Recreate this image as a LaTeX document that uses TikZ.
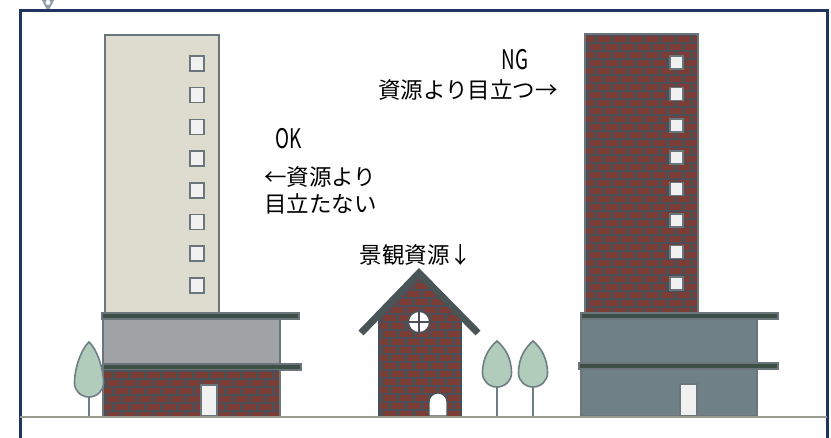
\documentclass[tikz,border=0pt]{standalone}
\usepackage{fontspec}
\usepackage{graphicx}
\newfontfamily\jpfont{Noto Sans CJK JP}
\definecolor{framenavy}{HTML}{1E3561}
\definecolor{beige}{HTML}{DDDCCF}
\definecolor{edgegray}{HTML}{6B757C}
\definecolor{winwhite}{HTML}{F1F1F1}
\definecolor{slabgreen}{HTML}{3E5045}
\definecolor{blockgray}{HTML}{A0A4A6}
\definecolor{slate}{HTML}{6F8087}
\definecolor{brick}{HTML}{7C3D37}
\definecolor{mortar}{HTML}{4B4F57}
\definecolor{leaf}{HTML}{B2CCBB}
\definecolor{leafedge}{HTML}{6F7E84}
\definecolor{groundgray}{HTML}{999B93}
\definecolor{roofgray}{HTML}{4A5558}
\definecolor{pingray}{HTML}{8C9EA6}

% brick wall: x0, y0, x1, y1, rows, columns (clipped to the rectangle)
\newcommand{\brickwall}[6]{%
  \begin{scope}
    \clip (#1,#2) rectangle (#3,#4);
    \fill[mortar] (#1,#2) rectangle (#3,#4);
    \foreach \i in {0,...,#5}{
      \pgfmathsetmacro\off{mod(\i,2)*8}
      \foreach \j in {-1,...,#6}{
        \fill[brick] (#1+\off+\j*16-4,#2+2+\i*8) rectangle ++(13,5.5);
      }
    }
  \end{scope}}

% tree: centre x, crown top, crown bottom, ground
\newcommand{\tree}[4]{%
  \draw[leafedge, line width=1.6] (#1,#3) -- (#1,#4);
  \filldraw[fill=leaf, draw=leafedge, line width=1.6]
    (#1,#2) .. controls (#1+7,#2+6) and (#1+14.5,#3-30) .. (#1+14.5,#3-14)
    arc[start angle=0, end angle=180, x radius=14.5, y radius=14]
    .. controls (#1-14.5,#3-30) and (#1-7,#2+6) .. cycle;}

\begin{document}
\begin{tikzpicture}[x=1pt, y=-1pt,
  outline/.style={draw=edgegray, line width=1.5},
  slab/.style={fill=slabgreen, draw=edgegray, line width=1.2},
  window/.style={fill=winwhite, draw=edgegray, line width=1.5},
  label/.style={font=\jpfont\fontsize{22.5pt}{28pt}\selectfont, inner sep=0pt},
  latin/.style={font=\jpfont\fontsize{27pt}{30pt}\selectfont, inner sep=0pt}]
\useasboundingbox (0,0) rectangle (831,437);
\fill[white] (0,0) rectangle (831,437);

% pin marker on the frame
\fill[pingray] (42,0) -- (54,0) -- (51,6) -- (48,11) -- (45,6) -- cycle;
\fill[white] (48,2.5) circle[radius=2.5];

% frame
\draw[framenavy, line width=3] (20,440) -- (20,10.5) -- (827,10.5) -- (827,440);

% ---- left tower (OK) ----
\fill[beige] (105,35) rectangle (219,313);
\draw[outline] (105,313) -- (105,35) -- (219,35) -- (219,313);
\foreach \k in {0,...,7}{
  \draw[window] (190,{56+\k*31.7}) rectangle ++(14,15);
}
\draw[slab] (102,313) rectangle (299,319);
\filldraw[fill=blockgray, draw=edgegray, line width=1.5] (103,319) rectangle (280,364);
\draw[slab] (103,364) rectangle (301,370);
\brickwall{103}{370}{280}{416}{6}{12}
\draw[outline] (103,370) -- (103,416) (280,370) -- (280,416);
\draw[window] (201,385) rectangle (217,416);

% ---- right tower (NG) ----
\brickwall{585}{34}{698}{313}{35}{8}
\draw[outline] (585,313) -- (585,34) -- (698,34) -- (698,313);
\foreach \k in {0,...,7}{
  \draw[window] (670,{56+\k*31.6}) rectangle ++(13,13);
}
\draw[slab] (581,313) rectangle (778,319);
\filldraw[fill=slate, draw=edgegray, line width=1.5] (581,319) rectangle (757,416);
\draw[slab] (579,363) rectangle (778,369);
\draw[window] (680,384) rectangle (697,416);

% ---- landmark house ----
\begin{scope}
  \clip (379,416) -- (379,314) -- (419,273) -- (461,314) -- (461,416) -- cycle;
  \brickwall{379}{273}{461}{416}{18}{6}
\end{scope}
\draw[mortar, line width=1.5] (379,314) -- (379,416) (461,314) -- (461,416);
\draw[roofgray, line width=7, line join=miter] (361,333) -- (419,273) -- (478,333);
\filldraw[fill=white, draw=mortar, line width=2] (419,322) circle[radius=11];
\draw[mortar, line width=2] (408,322) -- (430,322) (419,311) -- (419,333);
\filldraw[fill=white, draw=mortar, line width=1.2]
  (429,416) -- (429,402) arc[start angle=180, end angle=360, radius=9] -- (447,416) -- cycle;

% ---- trees ----
\tree{89}{342}{397}{417}
\tree{497}{341}{387}{417}
\tree{533}{341}{387}{417}

% ground
\draw[groundgray, line width=2.5] (20,417) -- (827,417);

% ---- labels ----
\node[latin] (ok) at (288.5,139) {\scalebox{0.7}[1]{OK}};
\node[label, anchor=west] (okline1) at (264,177) {←資源より};
\node[label, anchor=west] (okline2) at (264,204) {目立たない};
\node[latin] (ng) at (515,60) {\scalebox{0.7}[1]{NG}};
\node[label] (ngline) at (468,90) {資源より目立つ→};
\node[label] (landmark) at (416,255) {景観資源↓};
\end{tikzpicture}
\end{document}
